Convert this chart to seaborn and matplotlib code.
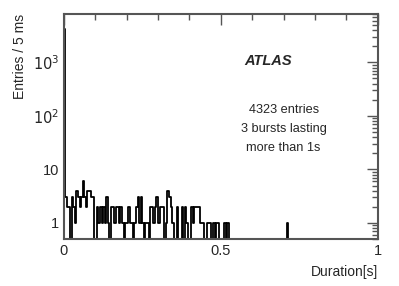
import numpy as np
import pandas as pd
import matplotlib
matplotlib.use("Agg")
import matplotlib.pyplot as plt
from matplotlib.ticker import LogLocator, FixedLocator, MultipleLocator, FuncFormatter
import seaborn as sns

# entries per 5 ms bin (bin 0 holds the bulk)
bin_width = 0.005
tail_counts = [3, 2, 2, 0, 3, 2, 1, 4, 3, 2, 3, 6, 3, 2, 4, 4, 3, 3, 0, 0,
               2, 1, 2, 1, 2, 1, 3, 1, 0, 2, 2, 1, 2, 2, 1, 2, 1, 0, 1, 1,
               2, 1, 1, 0, 1, 2, 3, 1, 3, 1, 0, 1, 1, 0, 2, 2, 1, 2, 3, 1,
               2, 2, 2, 0, 1, 4, 3, 2, 1, 0, 0, 2, 0, 0, 2, 0, 2, 1, 0, 0,
               2, 1, 2, 2, 2, 2, 1, 1, 0, 0, 1, 1, 1, 0, 1, 0, 1, 1, 0, 0,
               0, 1, 0, 1, 0]
late_bins = [142]          # isolated entry at ~0.71 s
late_counts = [1]
n_entries = 4323
info_text = "4323 entries\n3 bursts lasting\nmore than 1s"

counts = np.zeros(200)
counts[1:1 + len(tail_counts)] = tail_counts
counts[late_bins] = late_counts
counts[0] = n_entries - counts[1:].sum()
centers = (np.arange(200) + 0.5) * bin_width
df = pd.DataFrame({"duration": centers, "entries": counts})

sns.set_style("white")
plt.rcParams["font.family"] = ["Liberation Sans", "DejaVu Sans"]

fig = plt.figure(figsize=(3.99, 2.86), dpi=100)
ax = fig.add_axes([0.160, 0.164, 0.787, 0.787])
sns.histplot(data=df, x="duration", weights="entries", bins=200, binrange=(0, 1),
             element="step", fill=False, color="black", linewidth=1.3, ax=ax)
ax.set_yscale("log", nonpositive="clip")
ax.set_xlim(0, 1)
ax.set_ylim(0.5, 8000)

for s in ax.spines.values():
    s.set_color("#555555")
    s.set_linewidth(1.5)

ax.xaxis.set_major_locator(FixedLocator([0, 0.5, 1]))
ax.xaxis.set_minor_locator(MultipleLocator(0.1))
ax.xaxis.set_major_formatter(FuncFormatter(lambda v, p: "%g" % v))
ax.yaxis.set_major_locator(LogLocator(base=10, numticks=10))
ax.yaxis.set_minor_locator(LogLocator(base=10, subs=np.arange(2, 10), numticks=10))
ylab = {1: "1", 10: "10", 100: "$10^2$", 1000: "$10^3$"}
ax.yaxis.set_major_formatter(FuncFormatter(lambda v, p: ylab.get(int(round(v)), "")))
ax.tick_params(which="both", direction="in", top=True, right=True, labelsize=10.5,
               color="#555555")
ax.tick_params(which="major", length=8, width=1)
ax.tick_params(which="minor", length=4, width=1)

ax.set_xlabel("Duration[s]", fontsize=10, loc="right", labelpad=5)
ax.set_ylabel("Entries / 5 ms", fontsize=10, loc="top", labelpad=4)

ax.text(0.65, 0.79, "ATLAS", transform=ax.transAxes, fontsize=10.5,
        fontweight="bold", fontstyle="italic", ha="center", va="center")
ax.text(0.70, 0.60, info_text, transform=ax.transAxes, fontsize=9.2,
        ha="center", va="top", linespacing=1.8)

fig.savefig("out.png", dpi=100)
